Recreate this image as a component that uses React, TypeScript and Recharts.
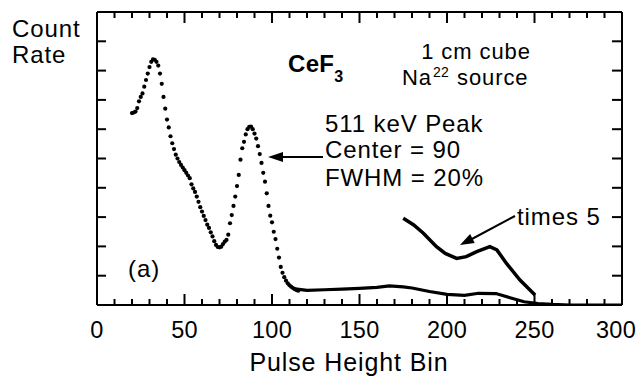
import React from "react";
import { ComposedChart, Line, XAxis, YAxis, Customized } from "recharts";

// Dotted spectrum (pulse height bin vs count rate, arbitrary units)
const dottedBins = [
  20, 21, 22, 23, 24, 25, 26, 27, 28, 29, 30, 31, 32, 33, 34, 35, 36, 37, 38, 39,
  40, 41, 42, 43, 44, 45, 46, 47, 48, 49, 50, 51, 52, 53, 54, 55, 56, 57, 58, 59,
  60, 61, 62, 63, 64, 65, 66, 67, 68, 69, 70, 71, 72, 73, 74, 75, 76, 77, 78, 79,
  80, 81, 82, 83, 84, 85, 86, 87, 88, 89, 90, 91, 92, 93, 94, 95, 96, 97, 98, 99,
  100, 101, 102, 103, 104, 105, 106, 107, 108, 109, 110, 111, 112, 113, 114, 115,
];
const dottedValues = [
  6.55, 6.57, 6.6, 6.72, 6.95, 7.1, 7.22, 7.45, 7.68, 7.9, 8.12, 8.3, 8.38, 8.37, 8.3, 8.17, 7.9, 7.55, 7.1, 6.7,
  6.33, 6.06, 5.76, 5.52, 5.32, 5.13, 5.0, 4.88, 4.78, 4.69, 4.6, 4.51, 4.42, 4.33, 4.12, 3.98, 3.86, 3.7, 3.52, 3.34,
  3.19, 3.04, 2.9, 2.74, 2.63, 2.48, 2.34, 2.18, 2.05, 1.98, 1.97, 1.99, 2.08, 2.16, 2.22, 2.4, 2.79, 3.07, 3.38, 3.7,
  4.06, 4.44, 4.96, 5.35, 5.57, 5.82, 6.0, 6.08, 6.09, 6.0, 5.85, 5.68, 5.42, 5.15, 4.85, 4.51, 4.21, 3.81, 3.38, 3.05,
  2.82, 2.5, 2.25, 1.92, 1.62, 1.3, 1.1, 0.95, 0.83, 0.74, 0.67, 0.62, 0.58, 0.54, 0.51, 0.49,
];

// Continuous tail of the spectrum
const tailBins = [112, 120, 130, 140, 150, 160, 167, 175, 180, 190, 200, 210, 218, 228, 236, 244, 252, 260, 270, 300];
const tailValues = [0.56, 0.5, 0.52, 0.54, 0.57, 0.6, 0.65, 0.62, 0.58, 0.46, 0.36, 0.33, 0.4, 0.39, 0.25, 0.11, 0.05, 0.02, 0, 0];

// Tail magnified "times 5"
const times5Bins = [175, 181, 186.5, 194, 199, 205.5, 211, 217, 224.5, 228.5, 234, 241.7, 249.3, 250.3];
const times5Values = [2.96, 2.73, 2.45, 1.99, 1.76, 1.59, 1.65, 1.82, 1.99, 1.88, 1.42, 0.85, 0.4, 0.34];

const xTicks = [0, 10, 20, 30, 40, 50, 60, 70, 80, 90, 100, 110, 120, 130, 140, 150, 160, 170, 180, 190, 200, 210, 220, 230, 240, 250, 260, 270, 280, 290, 300];
const yTicks = [0, 1, 2, 3, 4, 5, 6, 7, 8, 9, 10];

const dotted = dottedBins.map((b, i) => ({ bin: b, v: dottedValues[i] }));
const tail = tailBins.map((b, i) => ({ bin: b, v: tailValues[i] }));
const times5 = times5Bins.map((b, i) => ({ bin: b, v: times5Values[i] }));

const FONT = "'Liberation Sans', Arial, Helvetica, sans-serif";
const txt = { fontFamily: FONT, fontSize: 24, letterSpacing: 0.9, fill: "#000" } as const;
const tickTxt = { fontFamily: FONT, fontSize: 23.5, letterSpacing: 0.3, fill: "#000" } as const;

const BottomTick = (props: any) => {
  const { x, y, payload } = props;
  const major = payload.value % 50 === 0;
  const last = payload.value === 300;
  return (
    <g>
      <line x1={x} y1={y} x2={x} y2={y - (major ? 11 : 6)} stroke="#000" strokeWidth={2} />
      {major && (
        <text x={last ? x - 6 : x} y={y + 33} textAnchor="middle" style={tickTxt}>
          {payload.value}
        </text>
      )}
    </g>
  );
};

const TopTick = (props: any) => {
  const { x, y, payload } = props;
  const major = payload.value % 50 === 0;
  return <line x1={x} y1={y} x2={x} y2={y + (major ? 11 : 6)} stroke="#000" strokeWidth={2} />;
};

const LeftTick = (props: any) => {
  const { x, y } = props;
  return <line x1={x} y1={y} x2={x + 9} y2={y} stroke="#000" strokeWidth={2} />;
};

const RightTick = (props: any) => {
  const { x, y } = props;
  return <line x1={x} y1={y} x2={x - 10} y2={y} stroke="#000" strokeWidth={2} />;
};

const Annotations = () => (
  <g>
    <text x={12} y={37} style={txt}>Count</text>
    <text x={12} y={63} style={txt}>Rate</text>
    <text x={288} y={72} style={{ ...txt, fontWeight: "bold", letterSpacing: 0.3 }}>
      CeF<tspan fontSize={16} dy={10}>3</tspan>
    </text>
    <text x={476} y={59} textAnchor="middle" style={{ ...txt, fontSize: 22 }}>1 cm cube</text>
    <text x={432} y={85} textAnchor="end" style={{ ...txt, fontSize: 22 }}>Na</text>
    <text x={433} y={77} style={{ ...txt, fontSize: 14, letterSpacing: 0.3 }}>22</text>
    <text x={457} y={85} style={{ ...txt, fontSize: 22 }}>source</text>
    <text x={325} y={132} style={txt}>511 keV Peak</text>
    <text x={325} y={158} style={txt}>Center = 90</text>
    <text x={325} y={186} style={txt}>FWHM = 20%</text>
    <text x={517} y={225} style={txt}>times 5</text>
    <text x={128} y={277} style={txt}>(a)</text>
    <text x={349} y={371} textAnchor="middle" style={{ ...txt, fontSize: 25 }}>Pulse Height Bin</text>
    <line x1={323} y1={157} x2={278} y2={157} stroke="#000" strokeWidth={2} />
    <polygon points="268,157 283,152 283,162" fill="#000" />
    <line x1={515} y1={216} x2={470} y2={240} stroke="#000" strokeWidth={2} />
    <polygon points="460,245 474.7,242.9 470.1,234.1" fill="#000" />
  </g>
);

export default function App() {
  return (
    <div style={{ position: "absolute", left: 0, top: 0, background: "#fff" }}>
      <ComposedChart width={640} height={376} margin={{ top: 11, right: 17, bottom: 70, left: 96 }}>
        <XAxis
          xAxisId="b"
          type="number"
          dataKey="bin"
          domain={[0, 300]}
          ticks={xTicks}
          interval={0}
          allowDataOverflow
          height={1}
          tickSize={0}
          tickMargin={0}
          tickLine={false}
          axisLine={{ stroke: "#000", strokeWidth: 2 }}
          tick={<BottomTick />}
        />
        <XAxis
          xAxisId="t"
          orientation="top"
          type="number"
          dataKey="bin"
          domain={[0, 300]}
          ticks={xTicks}
          interval={0}
          allowDataOverflow
          height={1}
          tickSize={0}
          tickMargin={0}
          tickLine={false}
          axisLine={{ stroke: "#000", strokeWidth: 2 }}
          tick={<TopTick />}
        />
        <YAxis
          yAxisId="l"
          type="number"
          domain={[0, 10]}
          ticks={yTicks}
          interval={0}
          allowDataOverflow
          width={1}
          tickSize={0}
          tickMargin={0}
          tickLine={false}
          axisLine={{ stroke: "#000", strokeWidth: 2 }}
          tick={<LeftTick />}
        />
        <YAxis
          yAxisId="r"
          orientation="right"
          type="number"
          domain={[0, 10]}
          ticks={yTicks}
          interval={0}
          allowDataOverflow
          width={1}
          tickSize={0}
          tickMargin={0}
          tickLine={false}
          axisLine={{ stroke: "#000", strokeWidth: 2 }}
          tick={<RightTick />}
        />
        <Line
          xAxisId="b"
          yAxisId="l"
          data={dotted}
          dataKey="v"
          stroke="none"
          dot={{ r: 2.1, fill: "#000", stroke: "none" }}
          isAnimationActive={false}
        />
        <Line
          xAxisId="b"
          yAxisId="l"
          data={tail}
          dataKey="v"
          type="linear"
          stroke="#000"
          strokeWidth={3.2}
          dot={false}
          isAnimationActive={false}
        />
        <Line
          xAxisId="b"
          yAxisId="l"
          data={times5}
          dataKey="v"
          type="linear"
          stroke="#000"
          strokeWidth={3.5}
          dot={false}
          isAnimationActive={false}
        />
        <Customized component={Annotations} />
      </ComposedChart>
    </div>
  );
}
